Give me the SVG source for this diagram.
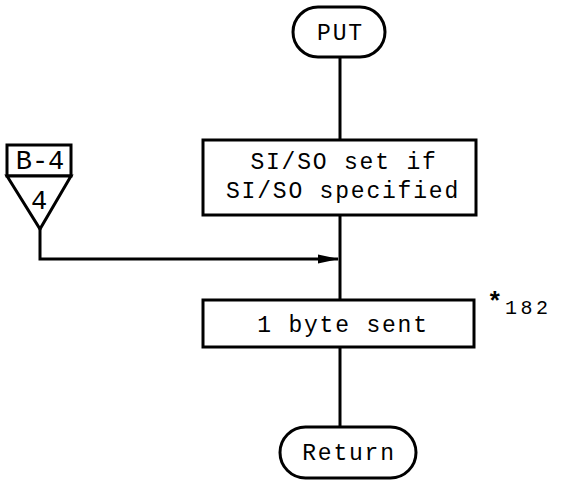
<svg xmlns="http://www.w3.org/2000/svg" width="562" height="481" viewBox="0 0 562 481">
<defs>
<style>
.s{fill:#fff;stroke:#000;stroke-width:3}
.l{fill:none;stroke:#000;stroke-width:3}
.t{font-family:"Liberation Mono","DejaVu Sans Mono",monospace;font-size:23px;letter-spacing:1.8px;fill:#000;text-anchor:middle}
</style>
<marker id="a" markerWidth="22" markerHeight="10" refX="20" refY="5" orient="auto" markerUnits="userSpaceOnUse"><path d="M0,0.5 L21,5 L0,9.5 Z" fill="#000"/></marker>
</defs>
<rect width="562" height="481" fill="#fff"/>
<g id="connectors">
<line class="l" x1="340" y1="57" x2="340" y2="140"/>
<line class="l" x1="340" y1="215" x2="340" y2="300"/>
<polyline class="l" points="40,229 40,259 338,259" marker-end="url(#a)"/>
<line class="l" x1="340" y1="347" x2="340" y2="427"/>
</g>
<g id="put">
<rect class="s" x="293" y="7" width="92" height="50" rx="25"/>
<text class="t" x="340.5" y="40">PUT</text>
</g>
<g id="siso">
<rect class="s" x="203" y="140" width="273" height="75"/>
<text class="t" x="344" y="169">SI/SO set if</text>
<text class="t" x="343" y="198">SI/SO specified</text>
</g>
<g id="offpage">
<rect class="s" x="7" y="145" width="64" height="31"/>
<polygon class="s" points="7,176 71,176 40,229"/>
<text class="t" x="40" y="169" style="font-size:27px;letter-spacing:0">B-4</text>
<text class="t" x="39" y="209" style="font-size:27px;letter-spacing:0">4</text>
</g>
<g id="send">
<rect class="s" x="203" y="300" width="271" height="47"/>
<text class="t" x="343" y="332">1 byte sent</text>
<text x="487" y="310" style="font-family:'Liberation Mono',monospace;font-size:26px;font-weight:bold">*</text>
<text x="505" y="314" style="font-family:'Liberation Mono',monospace;font-size:20px;letter-spacing:3.5px">182</text>
</g>
<g id="return">
<rect class="s" x="280" y="427" width="136" height="51" rx="25.5"/>
<text class="t" x="349" y="460">Return</text>
</g>
</svg>
